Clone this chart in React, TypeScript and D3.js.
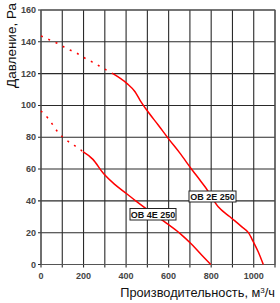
import React from "react";
import * as d3 from "d3";

const xTicks = [0, 200, 400, 600, 800, 1000];
const xGrid = [0, 100, 200, 300, 400, 500, 600, 700, 800, 900, 1000, 1100];
const yTicks = [0, 20, 40, 60, 80, 100, 120, 140, 160];

// OB 2E 250
const fan2Name = "OB 2E 250";
const fan2DashX = [0, 47, 86, 120, 164, 199, 238, 274, 311, 340];
const fan2DashY = [143.7, 140.8, 138.5, 135.8, 133.2, 130.3, 127.5, 124.8, 122, 119.8];
const fan2SolidX = [340, 403, 442, 465, 497, 551, 598, 653, 708, 747, 771, 833, 888, 943, 975, 998, 1021, 1045];
const fan2SolidY = [119.8, 113.9, 108.6, 103.4, 97.1, 87.7, 79.3, 70.0, 59.9, 53.1, 48.9, 36.3, 30, 23.8, 20, 14.3, 8, 0];

// OB 4E 250
const fan4Name = "OB 4E 250";
const fan4DashX = [0, 33, 56, 80, 103, 140, 174, 197];
const fan4DashY = [96.5, 91.9, 87.7, 83.1, 80, 76.2, 73.4, 70.9];
const fan4SolidX = [197, 244, 293, 345, 403, 450, 510, 591, 653, 708, 755, 798];
const fan4SolidY = [70.9, 66.1, 57.3, 50.5, 44.5, 39.5, 33.5, 25.9, 19.6, 12.7, 6, 0];

const W = 280, H = 303;
const L = 41, R = 275, T = 10, B = 264.5;
const font = "'Liberation Sans', Arial, sans-serif";

export default function App() {
  const x = d3.scaleLinear().domain([0, 1100]).range([L, R]);
  const y = d3.scaleLinear().domain([0, 160]).range([B, T]);
  const line = d3.line<[number, number]>().x(d => x(d[0])).y(d => y(d[1])).curve(d3.curveMonotoneX);
  const pts = (xs: number[], ys: number[]) => xs.map((v, i) => [v, ys[i]] as [number, number]);

  const label = (text: string, bx: number, by: number, bw: number, bh: number) => (
    <g>
      <rect x={bx} y={by} width={bw} height={bh} fill="#fff" stroke="#222" strokeWidth={1} />
      <text x={bx + bw / 2} y={by + bh / 2 + 3.3} textAnchor="middle" fontFamily={font} fontSize={9} fontWeight="bold" fill="#111">{text}</text>
    </g>
  );

  return (
    <svg width={W} height={H} style={{ position: "absolute", left: 0, top: 0, background: "#fff" }}>
      <rect x={0} y={0} width={W} height={H} fill="#fff" />
      {xGrid.map(v => (
        <line key={"gx" + v} x1={x(v)} x2={x(v)} y1={T} y2={B + 3} stroke="#2a2a2a" strokeWidth={1.1} />
      ))}
      {yTicks.map(v => (
        <line key={"gy" + v} x1={L - 3} x2={R} y1={y(v)} y2={y(v)} stroke="#2a2a2a" strokeWidth={1.1} />
      ))}
      <rect x={L} y={T} width={R - L} height={B - T} fill="none" stroke="#555" strokeWidth={1} />
      {yTicks.map(v => (
        <text key={"ty" + v} x={36} y={y(v) + 3} textAnchor="end" fontFamily={font} fontSize={9} fontWeight="bold" fill="#444">{v}</text>
      ))}
      {xTicks.map(v => (
        <text key={"tx" + v} x={x(v)} y={279} textAnchor="middle" fontFamily={font} fontSize={9} fontWeight="bold" fill="#444">{v}</text>
      ))}
      <path d={line(pts(fan2DashX, fan2DashY)) || ""} fill="none" stroke="#f00" strokeWidth={1.5} strokeDasharray="2,6" />
      <path d={line(pts(fan2SolidX, fan2SolidY)) || ""} fill="none" stroke="#f00" strokeWidth={1.5} />
      <path d={line(pts(fan4DashX, fan4DashY)) || ""} fill="none" stroke="#f00" strokeWidth={1.5} strokeDasharray="2,6" />
      <path d={line(pts(fan4SolidX, fan4SolidY)) || ""} fill="none" stroke="#f00" strokeWidth={1.5} />
      {label(fan2Name, 189, 191, 47, 11)}
      {label(fan4Name, 130, 208.5, 46, 11.5)}
      <text transform={`translate(16,88) rotate(-90)`} fontFamily={font} fontSize={12.5} fill="#111" textLength={85} lengthAdjust="spacingAndGlyphs">Давление, Ра</text>
      <text x={275} y={297} textAnchor="end" fontFamily={font} fontSize={12.8} fill="#111">Производительность, м<tspan dy={-4.5} fontSize={8}>3</tspan><tspan dy={4.5}>/ч</tspan></text>
    </svg>
  );
}
